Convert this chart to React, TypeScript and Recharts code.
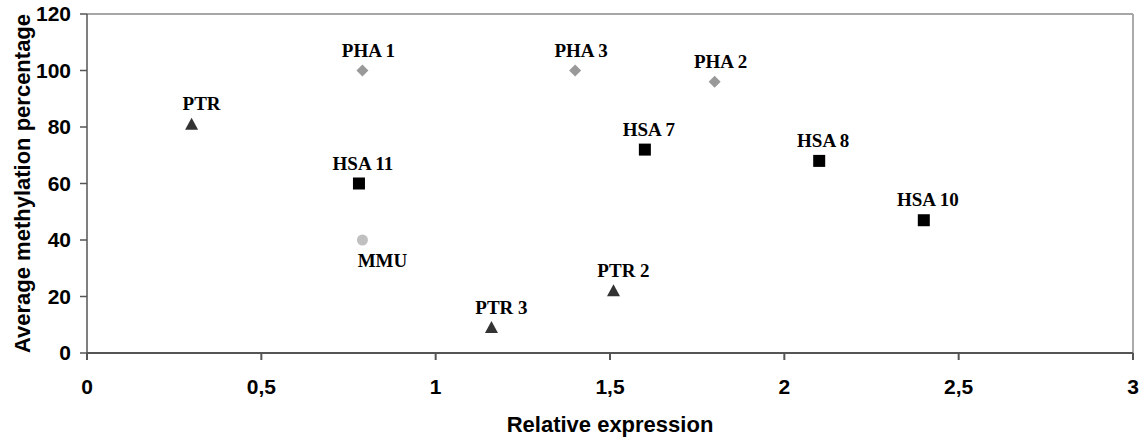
import { LabelList, ReferenceLine, Scatter, ScatterChart, XAxis, YAxis } from 'recharts';

const ptrNames = ['PTR', 'PTR 2', 'PTR 3'];
const ptrExpression = [0.3, 1.51, 1.16];
const ptrMethylation = [81, 22, 9];

const phaNames = ['PHA 1', 'PHA 2', 'PHA 3'];
const phaExpression = [0.79, 1.8, 1.4];
const phaMethylation = [100, 96, 100];

const hsaNames = ['HSA 7', 'HSA 8', 'HSA 10', 'HSA 11'];
const hsaExpression = [1.6, 2.1, 2.4, 0.78];
const hsaMethylation = [72, 68, 47, 60];

const mmuNames = ['MMU'];
const mmuExpression = [0.79];
const mmuMethylation = [40];

const xTicks = [0, 0.5, 1, 1.5, 2, 2.5, 3];
const yTicks = [0, 20, 40, 60, 80, 100, 120];

const toPoints = (names: string[], xs: number[], ys: number[]) =>
  names.map((name, i) => ({ name, expression: xs[i], methylation: ys[i] }));

const ptrData = toPoints(ptrNames, ptrExpression, ptrMethylation);
const phaData = toPoints(phaNames, phaExpression, phaMethylation);
const hsaData = toPoints(hsaNames, hsaExpression, hsaMethylation);
const mmuData = toPoints(mmuNames, mmuExpression, mmuMethylation);

const SANS = '"Liberation Sans", Arial, sans-serif';
const SERIF = '"Liberation Serif", "Times New Roman", serif';

const tickStyle = { fill: '#000', fontSize: 21, fontWeight: 700, fontFamily: SANS };
const titleStyle = { ...tickStyle, fontSize: 22 };

const Triangle = ({ cx, cy }: any) => (
  <path d={`M${cx},${cy - 6.5}L${cx + 6.5},${cy + 5.5}L${cx - 6.5},${cy + 5.5}Z`} fill='#333333' />
);
const Diamond = ({ cx, cy }: any) => (
  <path d={`M${cx},${cy - 6}L${cx + 6},${cy}L${cx},${cy + 6}L${cx - 6},${cy}Z`} fill='#999999' />
);
const Square = ({ cx, cy }: any) => <rect x={cx - 6} y={cy - 6} width={12} height={12} fill='#000' />;
const Dot = ({ cx, cy }: any) => <circle cx={cx} cy={cy} r={5.5} fill='#c0c0c0' />;

// point labels: plain <text> so names like "HSA 11" never wrap
const pointLabel = (below: boolean, dx: number) => (props: any) => {
  const box = props.viewBox ?? props;
  const cx = box.x + box.width / 2;
  const cy = box.y + box.height / 2;
  return (
    <text
      x={cx + dx}
      y={below ? cy + 27 : cy - 14}
      textAnchor='middle'
      fill='#000'
      fontSize={19}
      fontWeight={700}
      fontFamily={SERIF}
    >
      {props.value}
    </text>
  );
};

const YTitle = ({ viewBox }: any) => {
  const cy = viewBox.y + viewBox.height / 2;
  return (
    <text
      x={22}
      y={cy}
      transform={`rotate(-90, 22, ${cy})`}
      textAnchor='middle'
      dominantBaseline='central'
      style={titleStyle}
    >
      Average methylation percentage
    </text>
  );
};

export default function App() {
  return (
    <div style={{ position: 'absolute', left: 0, top: 0 }}>
      <ScatterChart width={1147} height={443} margin={{ top: 14, right: 14, bottom: 0, left: 0 }}>
        <XAxis
          type='number'
          dataKey='expression'
          domain={[0, 3]}
          ticks={xTicks}
          tickFormatter={(v) => String(v).replace('.', ',')}
          height={90}
          stroke='#555'
          strokeWidth={2}
          tickSize={7}
          tickMargin={19}
          tick={tickStyle}
          label={{
            value: 'Relative expression',
            position: 'insideBottom',
            offset: 11,
            style: titleStyle,
          }}
        />
        <YAxis
          type='number'
          dataKey='methylation'
          domain={[0, 120]}
          ticks={yTicks}
          width={87}
          stroke='#555'
          strokeWidth={1.5}
          tickSize={7}
          tickMargin={9}
          tick={tickStyle}
          label={{ content: YTitle }}
        />
        <ReferenceLine y={120} stroke='#888' strokeWidth={1.5} />
        <ReferenceLine x={3} stroke='#aaa' strokeWidth={2} />
        <Scatter data={ptrData} shape={Triangle} isAnimationActive={false}>
          <LabelList dataKey='name' content={pointLabel(false, 10)} />
        </Scatter>
        <Scatter data={phaData} shape={Diamond} isAnimationActive={false}>
          <LabelList dataKey='name' content={pointLabel(false, 6)} />
        </Scatter>
        <Scatter data={hsaData} shape={Square} isAnimationActive={false}>
          <LabelList dataKey='name' content={pointLabel(false, 4)} />
        </Scatter>
        <Scatter data={mmuData} shape={Dot} isAnimationActive={false}>
          <LabelList dataKey='name' content={pointLabel(true, 20)} />
        </Scatter>
      </ScatterChart>
    </div>
  );
}
